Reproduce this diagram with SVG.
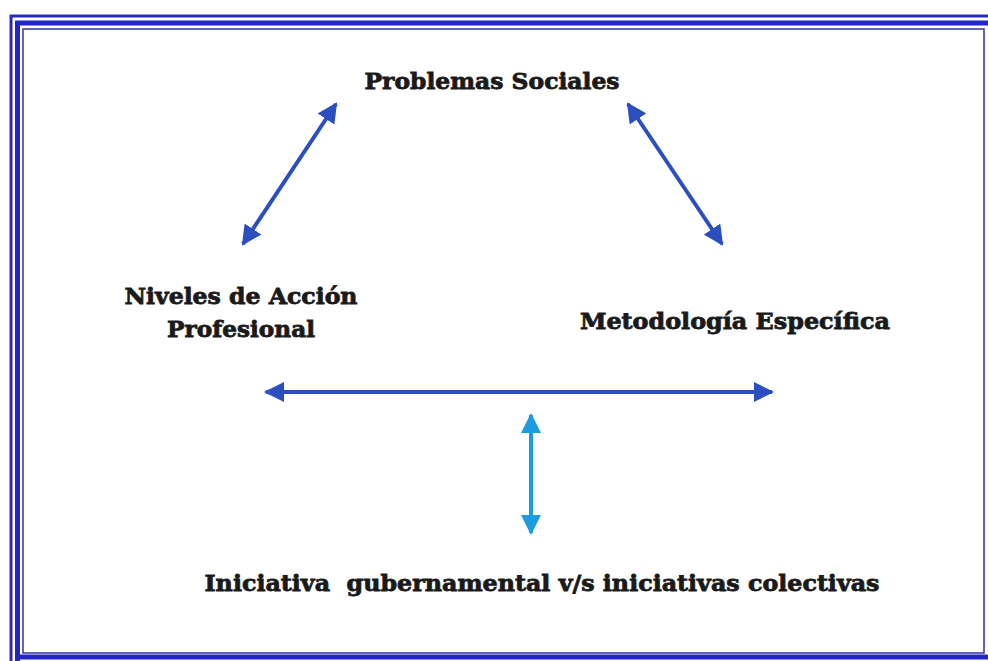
<svg xmlns="http://www.w3.org/2000/svg" width="988" height="661" viewBox="0 0 988 661">
<style>
.lbl{font-family:"DejaVu Serif","Liberation Serif",serif;font-weight:bold;font-size:23px;fill:#1a1a1a;stroke:#1a1a1a;stroke-width:0.8;text-anchor:middle}
.dk{stroke:#2c4fc0;stroke-width:4;fill:none}
.lt{stroke:#1d9be0;stroke-width:4;fill:none}
</style>
<defs>
<marker id="hd" viewBox="0 0 10 10" refX="9" refY="5" markerWidth="5" markerHeight="5" orient="auto-start-reverse" markerUnits="strokeWidth">
<path d="M0,0 L10,5 L0,10 z" fill="#2c4fc0"/>
</marker>
<marker id="hl" viewBox="0 0 10 10" refX="9" refY="5" markerWidth="5" markerHeight="5" orient="auto-start-reverse" markerUnits="strokeWidth">
<path d="M0,0 L10,5 L0,10 z" fill="#1d9be0"/>
</marker>
</defs>
<rect width="988" height="661" fill="#ffffff"/>
<g id="frame" fill="none">
<path d="M11,661 V16 H988" stroke="#2a2ab8" stroke-width="3"/>
<path d="M17.5,661 V23 H988" stroke="#2424c8" stroke-width="5"/>
<rect x="23" y="29" width="961" height="624" stroke="#3030a0" stroke-width="1.5"/>
<path d="M17.5,657 H988" stroke="#2424c8" stroke-width="5"/>
</g>
<g id="n1"><text class="lbl" x="492" y="89" textLength="255" lengthAdjust="spacingAndGlyphs">Problemas Sociales</text></g>
<g id="n2"><text class="lbl" x="241" y="304" textLength="233" lengthAdjust="spacingAndGlyphs">Niveles de Acción</text><text class="lbl" x="241" y="337" textLength="148" lengthAdjust="spacingAndGlyphs">Profesional</text></g>
<g id="n3"><text class="lbl" x="735" y="329" textLength="310" lengthAdjust="spacingAndGlyphs">Metodología Específica</text></g>
<g id="n4"><text class="lbl" x="542" y="591" textLength="675" lengthAdjust="spacingAndGlyphs" xml:space="preserve">Iniciativa  gubernamental v/s iniciativas colectivas</text></g>
<g id="connectors">
<line class="dk" x1="243" y1="244" x2="336" y2="104" marker-start="url(#hd)" marker-end="url(#hd)"/>
<line class="dk" x1="628" y1="104" x2="722" y2="244" marker-start="url(#hd)" marker-end="url(#hd)"/>
<line class="dk" x1="266" y1="392" x2="772" y2="392" marker-start="url(#hd)" marker-end="url(#hd)"/>
<line class="lt" x1="531" y1="415" x2="531" y2="533" marker-start="url(#hl)" marker-end="url(#hl)"/>
</g>
</svg>
